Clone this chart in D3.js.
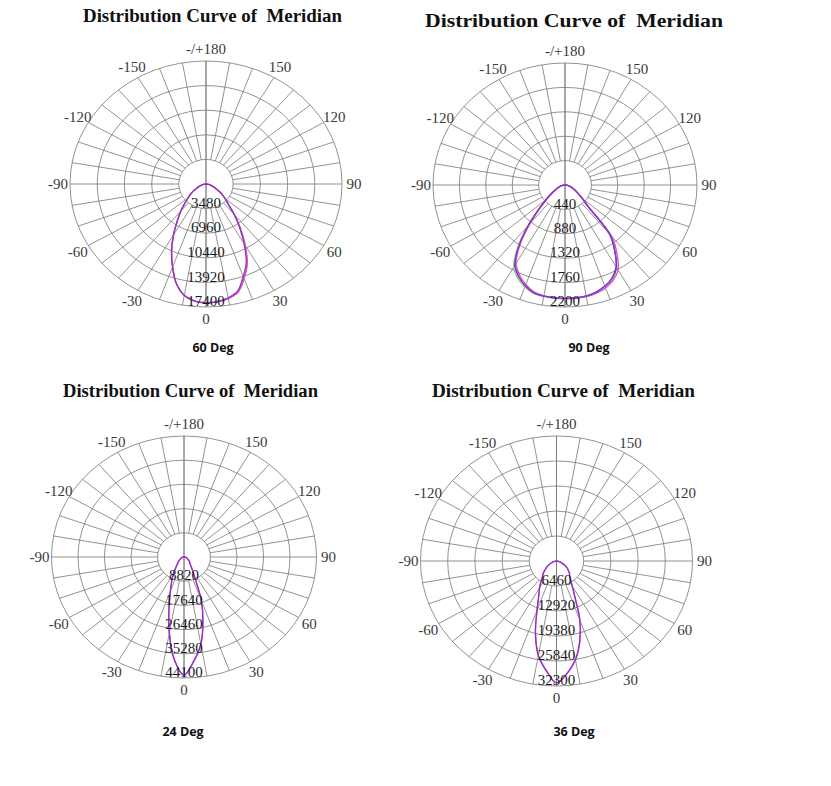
<!DOCTYPE html>
<html><head><meta charset="utf-8">
<script src="https://cdn.jsdelivr.net/npm/d3@7/dist/d3.min.js"></script>
<style>body{margin:0;background:#fff} text.title{white-space:pre}</style>
</head><body>
<svg id="chart" width="831" height="786"></svg>
<script>
// ---------- DATA ----------
const gammaAngles = [-90,-80,-70,-60,-55,-50,-45,-40,-35,-30,-25,-20,-15,-10,-5,0,5,10,15,20,25,30,35,40,45,50,55,60,70,80,90];
const angleTicks = [180,150,120,90,60,30,0,-30,-60,-90,-120,-150];
const angleTickLabels = ["-/+180","150","120","90","60","30","0","-30","-60","-90","-120","-150"];
const titleText = "Distribution Curve of  Meridian";
const beamNames = ["60 Deg","90 Deg","24 Deg","36 Deg"];

const rings60 = [3480,6960,10440,13920,17400];
const rings90 = [440,880,1320,1760,2200];
const rings24 = [8820,17640,26460,35280,44100];
const rings36 = [6460,12920,19380,25840,32300];

// 60 Deg (cd)
const beam60_A = [0,330,830,1680,2280,2880,3750,4950,6350,8250,10350,12450,14560,15980,16610,16800,16720,16420,15780,14120,12420,9950,7640,5680,4080,3180,2470,1760,880,350,0];
const beam60_B = [0,340,850,1700,2300,2920,3790,5000,6400,8300,10400,12500,14600,16000,16630,16810,16740,16450,15850,14250,12500,10050,7700,5720,4100,3190,2480,1760,880,350,0];
const beam60_C = [0,350,870,1740,2350,2960,3830,5050,6440,8350,10440,12530,14620,16010,16620,16790,16700,16360,15660,13920,12180,9740,7480,5570,4000,3130,2440,1740,870,350,0];
// 90 Deg (cd)
const beam90_A = [0,45,112,202,290,425,625,965,1375,1710,1860,1960,2025,2040,2050,2050,2050,2045,2020,1975,1880,1720,1445,1160,525,372,264,198,110,44,0];
const beam90_B = [0,44,108,195,282,412,608,935,1330,1665,1822,1932,2010,2032,2042,2044,2044,2032,1998,1940,1850,1700,1440,1150,520,370,262,198,110,44,0];
const beam90_C = [0,42,105,190,275,400,590,910,1300,1630,1790,1910,1995,2030,2045,2050,2050,2045,2020,1975,1900,1770,1510,1210,560,390,270,200,110,45,0];
const beam90_D = [0,45,110,200,285,420,615,945,1340,1670,1825,1935,2015,2035,2045,2045,2045,2035,2000,1945,1860,1715,1450,1165,530,375,265,200,110,45,0];
// 24 Deg (cd)
const beam24_A = [0,430,870,1300,1740,2180,2830,3480,4800,6950,9600,13100,19200,28000,37300,43000,38100,32400,24500,17000,9000,5850,4050,3130,2680,2230,1780,1340,890,440,0];
const beam24_B = [0,440,880,1320,1760,2210,2870,3530,4850,7060,9700,13230,19400,28220,37490,43000,37930,32190,24260,16760,8820,5730,3970,3090,2650,2210,1760,1320,880,440,0];
// 36 Deg (cd)
const beam36_A = [0,470,1110,2230,2880,3520,4420,5120,6400,8000,9900,13400,19200,24700,28300,31500,29200,26000,21500,16300,10450,7500,5860,4880,4300,3600,3040,2400,1190,480,0];
const beam36_B = [0,480,1130,2260,2910,3550,4450,5170,6460,8080,10010,13570,19380,24870,28420,31520,29070,25840,21320,16150,10340,7430,5810,4850,4330,3620,3070,2420,1200,490,0];

// ---------- LAYOUT / STYLE ----------
const panels = [
  {cx:206, cy:184, rx:136, ry:123, rings:rings60, name:beamNames[0], titleX:212.5, titleY:22, titleLen:259, subX:213, subY:352,
   series:[{v:beam60_A,c:"#c9a84a"},{v:beam60_B,c:"#e04cc0"},{v:beam60_C,c:"#8a34c8"}]},
  {cx:565, cy:185, rx:132, ry:122, rings:rings90, name:beamNames[1], titleX:574, titleY:27, titleLen:298, subX:589, subY:352,
   series:[{v:beam90_A,c:"#7fd36f"},{v:beam90_B,c:"#4a5ae0"},{v:beam90_C,c:"#e04cc0"},{v:beam90_D,c:"#8a34c8"}]},
  {cx:184, cy:557, rx:132.5, ry:121, rings:rings24, name:beamNames[2], titleX:190.5, titleY:397, titleLen:255, subX:183, subY:736,
   series:[{v:beam24_A,c:"#e04cc0"},{v:beam24_B,c:"#8a34c8"}]},
  {cx:556.5, cy:561, rx:136, ry:125, rings:rings36, name:beamNames[3], titleX:563.5, titleY:397, titleLen:263, subX:574, subY:736,
   series:[{v:beam36_A,c:"#e04cc0"},{v:beam36_B,c:"#8a34c8"}]}
];

const svg = d3.select("#chart");
const rad = d => d * Math.PI / 180;
const gridColor = "#777";
const serif = "'Liberation Serif','Times New Roman',serif";

panels.forEach(p => {
  const g = svg.append("g");
  const maxV = p.rings[p.rings.length - 1];
  const xs = d3.scaleLinear().domain([0, maxV]).range([0, p.rx]);
  const ys = d3.scaleLinear().domain([0, maxV]).range([0, p.ry]);
  const px = (v, a) => p.cx + xs(v) * Math.sin(rad(a));
  const py = (v, a) => p.cy + ys(v) * Math.cos(rad(a));

  // rings
  g.selectAll("ellipse.ring").data(p.rings).enter().append("ellipse")
    .attr("cx", p.cx).attr("cy", p.cy)
    .attr("rx", d => xs(d)).attr("ry", d => ys(d))
    .attr("fill", "none").attr("stroke", gridColor).attr("stroke-width", 0.8);

  // spokes every 10 deg
  const spokes = d3.range(-170, 190, 10);
  const inner = p.rings[0];
  g.selectAll("line.spoke").data(spokes).enter().append("line")
    .attr("x1", a => (a === 0 || a === 180) ? px(maxV, a === 0 ? 180 : 0) : px(inner, a))
    .attr("y1", a => (a === 0 || a === 180) ? py(maxV, a === 0 ? 180 : 0) : py(inner, a))
    .attr("x2", a => px(maxV, a)).attr("y2", a => py(maxV, a))
    .attr("stroke", gridColor).attr("stroke-width", 0.8);

  // curves
  const line = d3.line()
    .x(d => px(d.v, d.g)).y(d => py(d.v, d.g))
    .curve(d3.curveCatmullRom.alpha(0.5));
  p.series.forEach(s => {
    const pts = gammaAngles.map((a, i) => ({g: a, v: s.v[i]}));
    g.append("path").attr("d", line(pts))
      .attr("fill", "none").attr("stroke", s.c).attr("stroke-width", 1.3);
  });

  // ring labels
  g.selectAll("text.rl").data(p.rings).enter().append("text")
    .attr("x", p.cx).attr("y", d => p.cy + ys(d) - 6)
    .attr("dy", "0.35em").attr("text-anchor", "middle")
    .attr("font-family", serif).attr("font-size", 15).attr("fill", "#1a1a1a")
    .text(d => d);

  // angle labels
  const Lx = p.rx + 12, Ly = p.ry + 12;
  g.selectAll("text.al").data(angleTicks).enter().append("text")
    .attr("x", a => p.cx + Lx * Math.sin(rad(a)))
    .attr("y", a => p.cy + Ly * Math.cos(rad(a)))
    .attr("dy", "0.35em").attr("text-anchor", "middle")
    .attr("font-family", serif).attr("font-size", 15).attr("fill", "#3a3a3a")
    .text((a, i) => angleTickLabels[i]);

  // title
  g.append("text").attr("class", "title").attr("x", p.titleX).attr("y", p.titleY)
    .attr("text-anchor", "middle").attr("font-family", serif)
    .attr("font-weight", "bold").attr("font-size", 18).attr("fill", "#111")
    .attr("textLength", p.titleLen).attr("lengthAdjust", "spacingAndGlyphs")
    .text(titleText);

  // beam name
  g.append("text").attr("x", p.subX).attr("y", p.subY)
    .attr("text-anchor", "middle").attr("font-family", "'Open Sans','Noto Sans',sans-serif")
    .attr("font-weight", "bold").attr("font-size", 12.5).attr("fill", "#111")
    .text(p.name);
});
</script>
</body></html>
